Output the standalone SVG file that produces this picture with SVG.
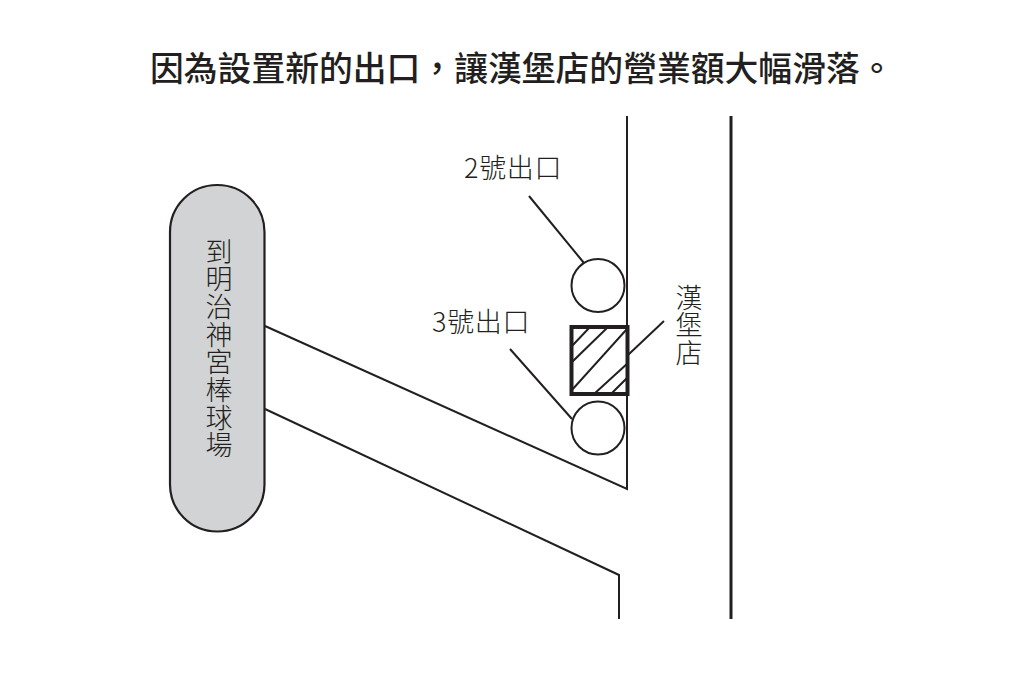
<svg xmlns="http://www.w3.org/2000/svg" width="1019" height="681" viewBox="0 0 1019 681">
<style>
text{font-family:"Noto Sans CJK TC","Liberation Sans",sans-serif;fill:#231f20}
.l{fill:none;stroke:#231f20;stroke-width:2}
.lb{font-size:27px;font-weight:300;letter-spacing:.7px}
.v{font-size:27px;font-weight:300;writing-mode:vertical-rl;letter-spacing:.65px}
</style>
<defs><clipPath id="c"><rect x="571" y="327" width="56" height="67"/></clipPath></defs>
<rect width="1019" height="681" fill="#fff"/>
<text x="150" y="81" font-size="33.8" font-weight="500">因為設置新的出口&#xFF0C;讓漢堡店的營業額大幅滑落。</text>
<g id="connectors">
<path class="l" d="M627 116V489L265 326"/>
<path class="l" d="M265 409L619 575V619"/>
<path class="l" style="stroke-width:3" d="M731 116V619"/>
<path class="l" d="M529 196L584 263M510 349L572 419M628 355L664 321"/>
</g>
<g id="stadium"><rect x="170" y="185" width="94.5" height="346.5" rx="47" fill="#d1d3d4" stroke="#231f20" stroke-width="2.2"/>
<text class="v" x="219" y="238">到明治神宮棒球場</text></g>
<g id="exit2"><circle cx="598" cy="285.5" r="26.5" fill="#fff" stroke="#231f20" stroke-width="2"/><text class="lb" x="464" y="178">2號出口</text></g>
<g id="exit3"><circle cx="598" cy="428" r="26.5" fill="#fff" stroke="#231f20" stroke-width="2"/><text class="lb" x="432" y="332">3號出口</text></g>
<g id="burger"><rect x="571" y="327" width="56" height="67" fill="#fff"/>
<path clip-path="url(#c)" class="l" d="M571 347L590 327M571 363L608 327M571 391L627 329M594 394L628 363M611 394L628 377"/>
<rect x="571.5" y="327" width="56" height="67" fill="none" stroke="#231f20" stroke-width="4"/>
<text class="v" x="689" y="284">漢堡店</text></g>
</svg>
